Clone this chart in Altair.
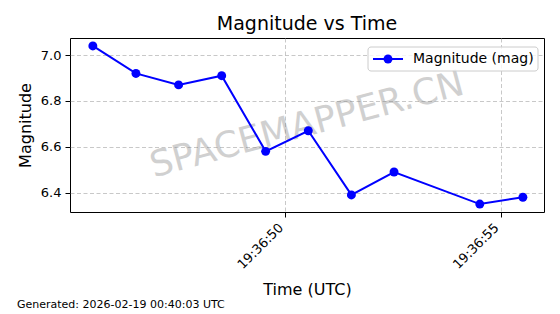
import altair as alt
import pandas as pd

# ---- data ----
times = [
    "2026-02-18T19:36:45.530Z",
    "2026-02-18T19:36:46.530Z",
    "2026-02-18T19:36:47.520Z",
    "2026-02-18T19:36:48.520Z",
    "2026-02-18T19:36:49.540Z",
    "2026-02-18T19:36:50.530Z",
    "2026-02-18T19:36:51.530Z",
    "2026-02-18T19:36:52.520Z",
    "2026-02-18T19:36:54.510Z",
    "2026-02-18T19:36:55.510Z",
]
mags = [7.04, 6.92, 6.87, 6.91, 6.58, 6.67, 6.39, 6.49, 6.35, 6.38]
y_ticks = [6.4, 6.6, 6.8, 7.0]
x_tick_seconds = [50, 55]
series_name = ["Magnitude (mag)"]
title_text = "Magnitude vs Time"
footer_text = ["Generated: 2026-02-19 00:40:03 UTC"]
watermark_text = ["SPACEMAPPER.CN"]

df = pd.DataFrame({"time": times, "mag": mags})

FONT = "DejaVu Sans"
BLUE = "#0000ff"
W, H = 474, 174


def dt(sec):
    return alt.DateTime(year=2026, month=2, date=18, hours=19, minutes=36,
                        seconds=sec, utc=True)


one = pd.DataFrame({"k": [0]})

watermark = alt.Chart(pd.DataFrame({"t": watermark_text})).mark_text(
    font=FONT, fontSize=36, angle=345, color="#808080", opacity=0.36,
    align="center", baseline="middle"
).encode(x=alt.value(W / 2), y=alt.value(H / 2), text="t:N")

line = alt.Chart(df).mark_line(
    color=BLUE, strokeWidth=2,
    point=alt.OverlayMarkDef(filled=True, size=80, color=BLUE, opacity=1),
).encode(
    x=alt.X("time:T",
            scale=alt.Scale(type="utc", domain=[dt(45), dt(56)]),
            axis=alt.Axis(values=[dt(s) for s in x_tick_seconds],
                          format="%H:%M:%S", labelAngle=-45,
                          labelAlign="right", labelBaseline="top",
                          labelOffset=-9,
                          title="Time (UTC)", titlePadding=10)),
    y=alt.Y("mag:Q",
            scale=alt.Scale(domain=[6.3155, 7.0745], nice=False, zero=False),
            axis=alt.Axis(values=y_ticks, format=".1f", title="Magnitude",
                          titlePadding=7)),
)

legend_box = alt.Chart(one).mark_rect(
    fill="white", fillOpacity=0.8, stroke="#cccccc", strokeWidth=1,
    cornerRadius=3
).encode(x=alt.value(298), x2=alt.value(468), y=alt.value(9), y2=alt.value(33))

legend_line = alt.Chart(one).mark_rule(color=BLUE, strokeWidth=2).encode(
    x=alt.value(303), x2=alt.value(333), y=alt.value(21))

legend_point = alt.Chart(one).mark_point(
    filled=True, size=80, color=BLUE, opacity=1, shape="circle"
).encode(x=alt.value(318), y=alt.value(21))

legend_text = alt.Chart(pd.DataFrame({"t": series_name})).mark_text(
    font=FONT, fontSize=14, align="left", baseline="middle", color="black"
).encode(x=alt.value(343), y=alt.value(21), text="t:N")

footer = alt.Chart(pd.DataFrame({"t": footer_text})).mark_text(
    font=FONT, fontSize=11, align="left", baseline="middle", color="black"
).encode(x=alt.value(17 - 70), y=alt.value(305 - 38), text="t:N")

chart = alt.layer(
    watermark, line, legend_box, legend_line, legend_point, legend_text, footer
).properties(
    width=W, height=H,
    autosize="none",
    background="white",
    padding={"left": 70, "top": 38, "right": 16, "bottom": 102},
    title=alt.Title(title_text, font=FONT, fontSize=19, fontWeight="normal",
                    anchor="middle", color="black", offset=4),
).configure_view(
    stroke="black", strokeWidth=1
).configure_axis(
    domain=False,
    grid=True, gridColor="#b0b0b0", gridOpacity=0.7, gridDash=[4, 2.5],
    gridWidth=1,
    ticks=True, tickColor="black", tickSize=5, tickWidth=1,
    labelFont=FONT, labelFontSize=13, labelColor="black", labelPadding=4,
    titleFont=FONT, titleFontSize=16, titleFontWeight="normal",
    titleColor="black",
)

chart.save("out.html", embed_options={"renderer": "svg", "actions": False})
